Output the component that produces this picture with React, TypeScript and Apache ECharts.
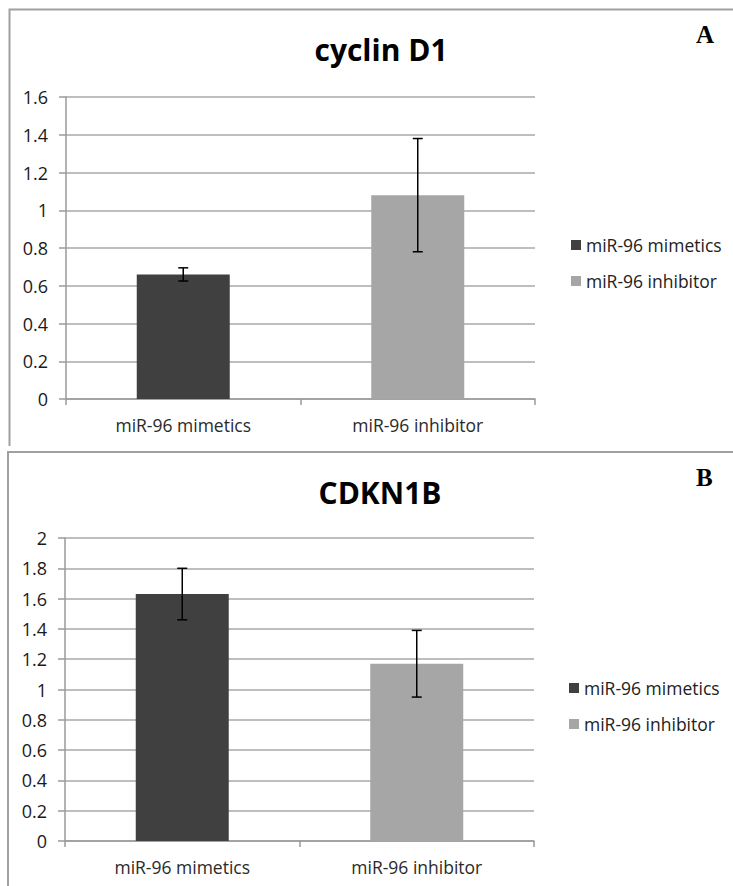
import React, { useEffect, useRef } from "react";
import * as echarts from "echarts";

const categories = ["miR-96 mimetics", "miR-96 inhibitor"];
const seriesNames = ["miR-96 mimetics", "miR-96 inhibitor"];
const seriesColors = ["#404040", "#a6a6a6"];

const cyclinMeans = [0.66, 1.08];
const cyclinErr = [0.035, 0.3];
const cdknMeans = [1.63, 1.17];
const cdknErr = [0.17, 0.22];

const titles = ["cyclin D1", "CDKN1B"];
const panelLetters = ["A", "B"];
const yMax = [1.6, 2];
const yInterval = [0.2, 0.2];

const FONT = "'Open Sans', 'Noto Sans', sans-serif";

export default function App() {
  const ref = useRef<HTMLDivElement>(null);
  useEffect(() => {
    if (!ref.current) return;
    const chart = echarts.init(ref.current, null, { renderer: "svg" });

    const grids = [
      { left: 66, top: 97, width: 469, height: 302 },
      { left: 65, top: 538, width: 469, height: 303 },
    ];
    const means = [cyclinMeans, cdknMeans];
    const errs = [cyclinErr, cdknErr];

    const xAxes: any[] = [];
    const yAxes: any[] = [];
    const series: any[] = [];

    for (let p = 0; p < 2; p++) {
      xAxes.push({
        type: "category",
        gridIndex: p,
        data: categories,
        axisLine: { show: true, lineStyle: { color: "#9a9a9a", width: 1.5 } },
        axisTick: { show: true, length: 6, alignWithLabel: false, lineStyle: { color: "#9a9a9a", width: 1.5 } },
        axisLabel: { color: "#2a2a2a", fontFamily: FONT, fontSize: 17.5, margin: 17 },
        splitLine: { show: false },
      });
      yAxes.push({
        type: "value",
        gridIndex: p,
        min: 0,
        max: yMax[p],
        interval: yInterval[p],
        axisLine: { show: true, lineStyle: { color: "#9a9a9a", width: 1.5 } },
        axisTick: { show: true, length: 7, lineStyle: { color: "#9a9a9a", width: 1.5 } },
        axisLabel: { color: "#1a1a1a", fontFamily: FONT, fontSize: 18, margin: 18 },
        splitLine: { show: true, lineStyle: { color: "#a8a8a8", width: 1.5 } },
      });
      for (let s = 0; s < 2; s++) {
        const data = categories.map((_, i) => (i === s ? means[p][i] : "-"));
        series.push({
          type: "bar",
          name: seriesNames[s],
          xAxisIndex: p,
          yAxisIndex: p,
          data,
          barWidth: 93,
          barGap: "-100%",
          itemStyle: { color: seriesColors[s] },
          z: 2,
        });
      }
      const errData = categories.map((_, i) => [i, means[p][i] - errs[p][i], means[p][i] + errs[p][i]]);
      series.push({
        type: "custom",
        name: "err" + p,
        xAxisIndex: p,
        yAxisIndex: p,
        data: errData,
        z: 5,
        encode: { x: 0, y: [1, 2] },
        renderItem: (params: any, api: any) => {
          const x = api.value(0);
          const lo = api.coord([x, api.value(1)]);
          const hi = api.coord([x, api.value(2)]);
          const hw = 5;
          const style = { stroke: "#000", lineWidth: 1.5 };
          return {
            type: "group",
            children: [
              { type: "line", shape: { x1: lo[0], y1: lo[1], x2: hi[0], y2: hi[1] }, style },
              { type: "line", shape: { x1: lo[0] - hw, y1: lo[1], x2: lo[0] + hw, y2: lo[1] }, style },
              { type: "line", shape: { x1: hi[0] - hw, y1: hi[1], x2: hi[0] + hw, y2: hi[1] }, style },
            ],
          };
        },
      });
    }

    const legendCommon = {
      orient: "vertical",
      icon: "rect",
      itemWidth: 10,
      itemHeight: 10,
      itemGap: 18,
      itemStyle: {},
      data: seriesNames,
      selectedMode: false,
      textStyle: { color: "#222", fontFamily: FONT, fontSize: 17.5, padding: [0, 0, 0, 0] },
    };

    chart.setOption({
      animation: false,
      backgroundColor: "#fff",
      title: [
        { text: titles[0], left: 376, top: 29, textAlign: "center", textStyle: { fontFamily: FONT, fontWeight: "bold", fontSize: 30, color: "#000" } },
        { text: titles[1], left: 375, top: 472, textAlign: "center", textStyle: { fontFamily: FONT, fontWeight: "bold", fontSize: 30, color: "#000" } },
      ],
      legend: [
        { ...legendCommon, left: 566, top: 231 },
        { ...legendCommon, left: 564, top: 674 },
      ],
      grid: grids,
      xAxis: xAxes,
      yAxis: yAxes,
      series,
      graphic: [
        { type: "polyline", shape: { points: [[9.5, 446], [9.5, 9.5], [740, 9.5]] }, style: { stroke: "#a0a0a0", fill: "none", lineWidth: 2 } },
        { type: "polyline", shape: { points: [[8, 890], [8, 452], [740, 452]] }, style: { stroke: "#a0a0a0", fill: "none", lineWidth: 2 } },
        { type: "text", left: 696, top: 22, style: { text: panelLetters[0], font: "bold 25px 'Liberation Serif', serif", fill: "#000" } },
        { type: "text", left: 696, top: 465, style: { text: panelLetters[1], font: "bold 25px 'Liberation Serif', serif", fill: "#000" } },
      ],
    });
    return () => chart.dispose();
  }, []);
  return <div ref={ref} style={{ position: "fixed", left: 0, top: 0, width: 733, height: 886 }} />;
}
